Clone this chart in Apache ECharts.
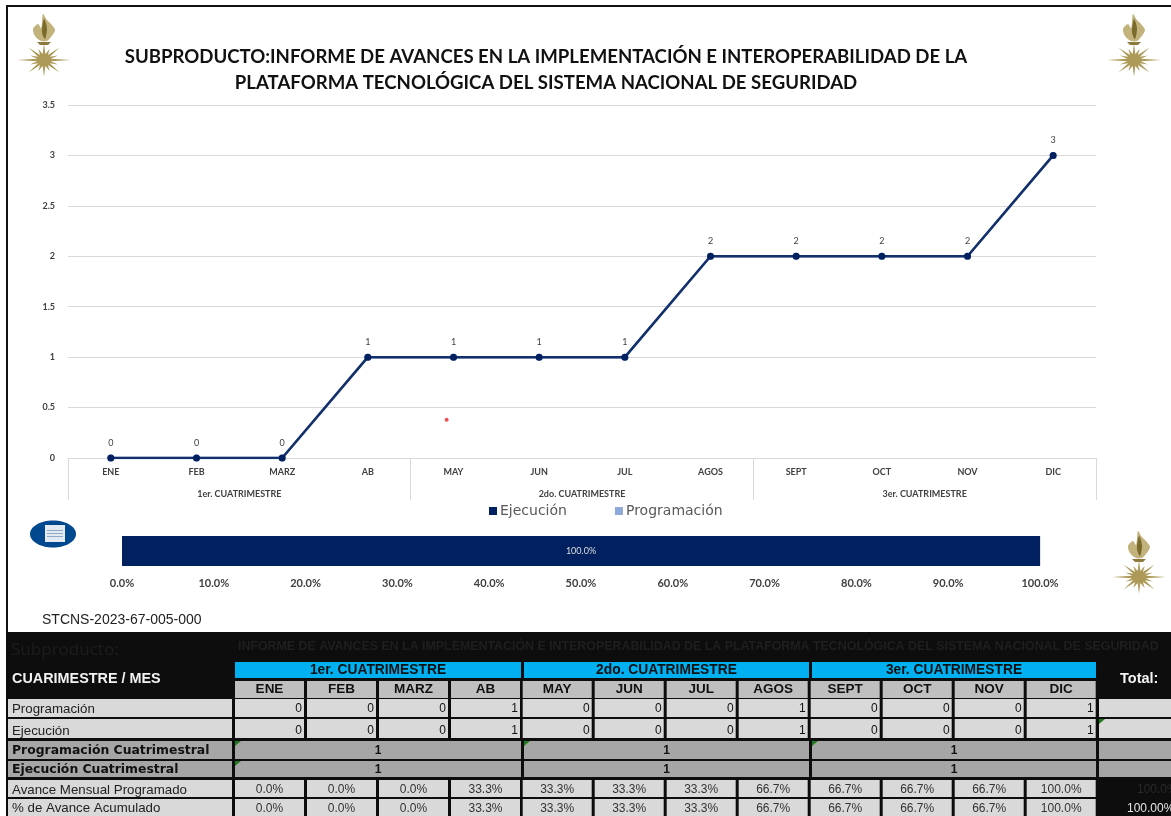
<!DOCTYPE html>
<html lang="es">
<head>
<meta charset="UTF-8" />
<title>Subproducto</title>
<style>
    body { margin: 0; padding: 0; background: #fff; }
    .chart { width: 1171px; height: 816px; }
</style>
</head>
<body>
<div class="chart"></div>
<script src="https://cdn.jsdelivr.net/npm/echarts@6/dist/echarts.min.js"></script>
<script>
    const meses = ['ENE', 'FEB', 'MARZ', 'AB', 'MAY', 'JUN', 'JUL', 'AGOS', 'SEPT', 'OCT', 'NOV', 'DIC'];
    const cuatrimestres = ['1er. CUATRIMESTRE', '2do. CUATRIMESTRE', '3er. CUATRIMESTRE'];
    const acumProgramacion = [0, 0, 0, 1, 1, 1, 1, 2, 2, 2, 2, 3];
    const acumEjecucion = [0, 0, 0, 1, 1, 1, 1, 2, 2, 2, 2, 3];
    const avanceTotal = [1];
    const puntoSuelto = [4.42, 0.38]; // punto rojo que aparece suelto en la grafica

    const filaProgramacion = [0, 0, 0, 1, 0, 0, 0, 1, 0, 0, 0, 1];
    const filaEjecucion = [0, 0, 0, 1, 0, 0, 0, 1, 0, 0, 0, 1];
    const progCuatrimestral = [1, 1, 1];
    const ejecCuatrimestral = [1, 1, 1];
    const avanceMensual = ['0.0%', '0.0%', '0.0%', '33.3%', '33.3%', '33.3%', '33.3%', '66.7%', '66.7%', '66.7%', '66.7%', '100.0%'];
    const avanceAcumulado = ['0.0%', '0.0%', '0.0%', '33.3%', '33.3%', '33.3%', '33.3%', '66.7%', '66.7%', '66.7%', '66.7%', '100.0%'];

    const titulo = 'SUBPRODUCTO:INFORME DE AVANCES EN LA IMPLEMENTACIÓN E INTEROPERABILIDAD DE LA\nPLATAFORMA TECNOLÓGICA DEL SISTEMA NACIONAL DE SEGURIDAD';
    const tituloTabla = 'INFORME DE AVANCES EN LA IMPLEMENTACIÓN E INTEROPERABILIDAD DE LA PLATAFORMA TECNOLÓGICA DEL SISTEMA NACIONAL DE SEGURIDAD';
    const codigo = 'STCNS-2023-67-005-000';

    const azul = '#002060';
    const celda = '#D9D9D9';
    const gris = '#A6A6A6';
    const encabezado = '#BFBFBF';
    const negro = '#0D0D0D';
    const tablaFont = '"Liberation Sans"';

    const g = [];
    function rect(x, y, w, h, fill) {
        g.push({ type: 'rect', silent: true, shape: { x, y, width: w, height: h }, style: { fill } });
    }
    function text(str, x, y, font, fill, align) {
        g.push({
            type: 'text', silent: true, x, y,
            style: { text: String(str), font, fill, textAlign: align || 'left', textVerticalAlign: 'middle', align: align || 'left', verticalAlign: 'middle' }
        });
    }

    // marco y fondo negro de la tabla
    rect(6, 5, 1165, 2, '#111');
    rect(6, 5, 2, 630, '#111');
    rect(6, 632, 1165, 184, negro);

    // emblema dorado
    function emblema(cx, cy) {
        const pts = [];
        const rayos = 16;
        for (let i = 0; i < rayos; i++) {
            const a = i * 2 * Math.PI / rayos;
            let r = i % 4 === 0 ? 21 : (i % 2 === 0 ? 22 : 15);
            if (i % 8 === 0) r = 27;
            pts.push([Math.cos(a) * r, Math.sin(a) * r * 0.8]);
            const b = a + Math.PI / rayos;
            pts.push([Math.cos(b) * 7, Math.sin(b) * 6]);
        }
        g.push({
            type: 'group', x: cx, y: cy, silent: true,
            children: [
                { type: 'polygon', shape: { points: pts }, style: { fill: '#AD9A58' } },
                { type: 'polygon', shape: { smooth: 0.3, points: [[-1, -46], [3, -40], [7, -36], [11, -30], [7, -23], [3, -19], [-3, -19], [-9, -24], [-11, -31], [-6, -36], [-3, -32], [-2, -38]] }, style: { fill: '#C2B27C' } },
                { type: 'polygon', shape: { smooth: 0.3, points: [[0, -41], [3, -32], [1, -21], [-2, -28]] }, style: { fill: '#7A6A2C' } },
                { type: 'polygon', shape: { points: [[-7, -18], [7, -18], [4, -15], [-4, -15]] }, style: { fill: '#8C7A3F' } }
            ]
        });
    }
    emblema(44, 60);
    emblema(1134, 60);
    emblema(1139, 577);

    // icono de documento
    g.push({ type: 'ellipse', silent: true, shape: { cx: 53, cy: 534, rx: 23, ry: 13.5 }, style: { fill: '#00498F' } });
    rect(45, 525, 20, 17, '#E4EAF2');
    rect(47, 530, 16, 1, '#8FA9C9');
    rect(47, 533, 16, 1, '#8FA9C9');
    rect(47, 536, 16, 1, '#8FA9C9');

    text(codigo, 42, 620, '14px "Liberation Sans"', '#222');

    // tabla: cada fila es [y, alto, y del texto]
    const colX = meses.map((m, i) => 235 + i * 72 - (i > 3 ? 0.3 : 0));
    const colW = 69;
    const bloques = [[235, 286], [524, 285], [812, 284]];
    const filas = {
        cuat: [662, 16, 670], mes: [681, 17, 689.5], prog: [699, 18, 709], ejec: [719, 19, 731],
        pc: [741, 18, 750.5], ec: [761, 16, 770], am: [780, 17, 790], aa: [799, 18, 808.5]
    };
    const mid = f => f[2];

    text('Subproducto:', 11, 650, '17px "Noto Sans"', '#1c1c1c');
    text(tituloTabla, 238, 647, 'bold 12.4px "Liberation Sans"', '#1f1f1f');

    rect(8, filas.cuat[0], 224, 36, negro);
    text('CUARIMESTRE / MES', 12, 679, 'bold 14.4px ' + tablaFont, '#f2f2f2');
    text('Total:', 1120, 679, 'bold 14.5px ' + tablaFont, '#f2f2f2');

    bloques.forEach((b, i) => {
        rect(b[0], filas.cuat[0], b[1], filas.cuat[1], '#00B0F0');
        text(cuatrimestres[i], b[0] + b[1] / 2, mid(filas.cuat), 'bold 13.8px ' + tablaFont, '#111', 'center');
        rect(b[0], filas.pc[0], b[1], filas.pc[1], gris);
        text(progCuatrimestral[i], b[0] + b[1] / 2, mid(filas.pc), 'bold 12px ' + tablaFont, '#111', 'center');
        rect(b[0], filas.ec[0], b[1], filas.ec[1], gris);
        text(ejecCuatrimestral[i], b[0] + b[1] / 2, mid(filas.ec), 'bold 12px ' + tablaFont, '#111', 'center');
    });

    [['Programación', filas.prog], ['Ejecución', filas.ejec], ['Avance Mensual Programado', filas.am], ['% de Avance Acumulado', filas.aa]].forEach(r => {
        rect(8, r[1][0], 224, r[1][1], celda);
        text(r[0], 12, mid(r[1]), '13.3px ' + tablaFont, '#222');
    });
    [['Programación Cuatrimestral', filas.pc], ['Ejecución Cuatrimestral', filas.ec]].forEach(r => {
        rect(8, r[1][0], 224, r[1][1], gris);
        text(r[0], 12, mid(r[1]), 'bold 12.4px "DejaVu Sans"', '#111');
    });

    meses.forEach((m, i) => {
        const x = colX[i];
        rect(x, filas.mes[0], colW, filas.mes[1], encabezado);
        text(m, x + colW / 2, mid(filas.mes), 'bold 13.5px ' + tablaFont, '#111', 'center');
        rect(x, filas.prog[0], colW, filas.prog[1], celda);
        text(filaProgramacion[i], x + colW - 2, mid(filas.prog), '12px ' + tablaFont, '#111', 'right');
        rect(x, filas.ejec[0], colW, filas.ejec[1], celda);
        text(filaEjecucion[i], x + colW - 2, mid(filas.ejec), '12px ' + tablaFont, '#111', 'right');
        rect(x, filas.am[0], colW, filas.am[1], celda);
        text(avanceMensual[i], x + colW / 2, mid(filas.am), '12px ' + tablaFont, '#333', 'center');
        rect(x, filas.aa[0], colW, filas.aa[1], celda);
        text(avanceAcumulado[i], x + colW / 2, mid(filas.aa), '12px ' + tablaFont, '#333', 'center');
    });

    // columna de total
    rect(1099, filas.prog[0], 72, filas.prog[1], celda);
    rect(1099, filas.ejec[0], 72, filas.ejec[1], celda);
    rect(1099, filas.pc[0], 72, filas.pc[1], gris);
    rect(1099, filas.ec[0], 72, filas.ec[1], gris);
    text('100.0%', 1137, mid(filas.am), '12px ' + tablaFont, '#2a2a2a');
    text('100.00%', 1127, mid(filas.aa), '12px ' + tablaFont, '#e6e6e6');

    // marcas verdes de las celdas
    [[235, 741], [235, 761], [524, 741], [812, 741], [1099, 719]].forEach(p => {
        g.push({ type: 'polygon', silent: true, shape: { points: [[p[0], p[1]], [p[0] + 6, p[1]], [p[0], p[1] + 5]] }, style: { fill: '#1E7B1E' } });
    });

    const etiquetaEje = { fontFamily: 'Lato', fontWeight: 'bold', fontSize: 9, color: '#404040' };

    const option = {
        animation: false,
        backgroundColor: '#fff',
        title: {
            text: titulo,
            left: 541,
            top: 39,
            textAlign: 'center',
            textStyle: { fontFamily: 'Lato', fontWeight: 'bold', fontSize: 18.6, lineHeight: 26, color: '#111' }
        },
        legend: {
            data: ['Ejecución', 'Programación'],
            left: 484,
            top: 499,
            itemWidth: 8,
            itemHeight: 8,
            itemGap: 48,
            icon: 'rect',
            textStyle: { fontFamily: 'DejaVu Sans', fontSize: 14, color: '#595959', padding: [0, 0, 0, -2] }
        },
        grid: [
            { left: 68, top: 105, width: 1028, height: 353 },
            { left: 122, top: 536, width: 918, height: 30 }
        ],
        xAxis: [
            {
                type: 'category', gridIndex: 0, data: meses,
                axisLine: { lineStyle: { color: '#D9D9D9' } },
                axisTick: { show: false },
                axisLabel: { ...etiquetaEje, interval: 0, margin: 10 }
            },
            {
                type: 'category', gridIndex: 0, data: cuatrimestres, position: 'bottom',
                axisLine: { show: false },
                axisTick: { show: true, length: 42, lineStyle: { color: '#D9D9D9' } },
                axisLabel: { ...etiquetaEje, interval: 0, margin: 32 }
            },
            { type: 'value', gridIndex: 0, min: 0, max: 12, show: false },
            {
                type: 'value', gridIndex: 1, min: 0, max: 1, interval: 0.1,
                axisLine: { show: false },
                axisTick: { show: false },
                splitLine: { lineStyle: { color: '#E3E3E3' } },
                axisLabel: {
                    fontFamily: 'Lato', fontWeight: 'bold', fontSize: 11, color: '#404040', margin: 12,
                    formatter: v => (v * 100).toFixed(1) + '%'
                }
            }
        ],
        yAxis: [
            {
                type: 'value', gridIndex: 0, min: 0, max: 3.5, interval: 0.5,
                axisLine: { show: false },
                axisTick: { show: false },
                splitLine: { lineStyle: { color: '#D9D9D9' } },
                axisLabel: { ...etiquetaEje, margin: 13 }
            },
            { type: 'category', gridIndex: 1, data: [''], show: false }
        ],
        series: [
            {
                name: 'Programación', type: 'line', data: acumProgramacion,
                xAxisIndex: 0, yAxisIndex: 0, z: 2,
                color: '#8EA9DB', symbol: 'circle', symbolSize: 7,
                lineStyle: { width: 2.5 }
            },
            {
                name: 'Ejecución', type: 'line', data: acumEjecucion,
                xAxisIndex: 0, yAxisIndex: 0, z: 3,
                color: '#002060', symbol: 'circle', symbolSize: 7,
                lineStyle: { width: 2.5, color: '#14306B' },
                label: { show: true, position: 'top', distance: 7, fontFamily: 'Lato', fontSize: 9, color: '#404040' }
            },
            {
                name: 'punto', type: 'scatter', data: [puntoSuelto],
                xAxisIndex: 2, yAxisIndex: 0, symbolSize: 4, color: '#E8262A', z: 4
            },
            {
                name: 'Avance', type: 'bar', data: avanceTotal,
                xAxisIndex: 3, yAxisIndex: 1, barWidth: 30, color: azul,
                label: {
                    show: true, position: 'inside', fontFamily: 'Lato', fontSize: 9, color: '#ddd',
                    formatter: p => (p.value * 100).toFixed(1) + '%'
                }
            }
        ],
        graphic: { elements: g }
    };

    const container = document.querySelector('.chart');
    const instance = echarts.init(container);
    instance.setOption(option);
</script>
</body>
</html>
